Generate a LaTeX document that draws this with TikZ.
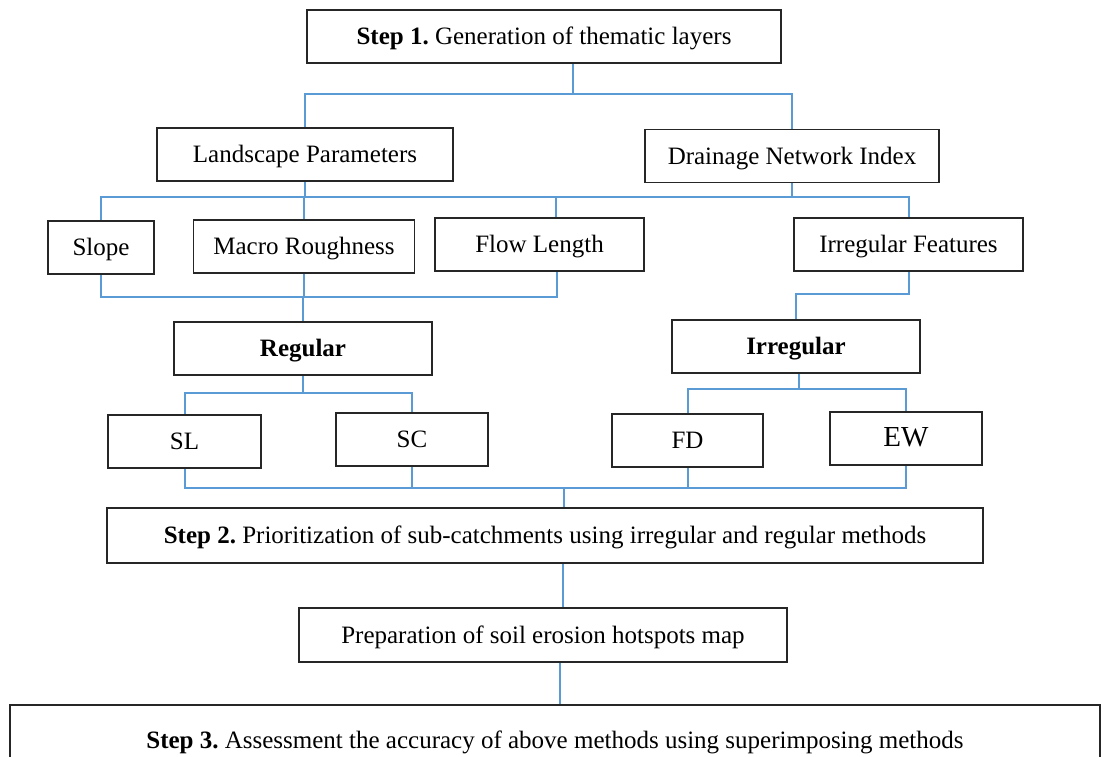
\documentclass[tikz,border=0pt]{standalone}
\usepackage{fontspec}
\setmainfont{Liberation Serif}
\frenchspacing
\definecolor{linkblue}{RGB}{91,155,213}
\tikzset{
  box/.style={draw=black!85, line width=1.2pt, inner sep=0pt, minimum height=39.75pt, text height=13.5pt, text depth=1.5pt, font=\fontsize{18.75}{22}\selectfont},
  link/.style={draw=linkblue, line width=1.5pt},
}

\begin{document}
\begin{tikzpicture}[x=0.75pt,y=0.75pt,yscale=-1,xscale=1]
\useasboundingbox (0,0) rectangle (1105,756);
\clip (0,0) rectangle (1105,756);

% Text Node
\node[box, minimum width=355.5pt] (step1) at (544,36.5) {\textbf{Step 1.} Generation of thematic layers};
% Text Node
\node[box, minimum width=222pt] (land) at (305,154.5) {Landscape Parameters};
\node[box, minimum width=220.5pt] (drain) at (792,156) {Drainage Network Index};
% Text Node
\node[box, minimum width=79.5pt] (slope) at (101,247.5) {Slope};
\node[box, minimum width=165.75pt] (macro) at (304,246.5) {Macro Roughness};
\node[box, minimum width=156.75pt] (flow) at (539.5,244.5) {Flow Length};
\node[box, minimum width=171.75pt] (irrf) at (908.5,244.5) {Irregular Features};
% Text Node
\node[box, minimum width=193.5pt] (reg) at (303,348.5) {\textbf{Regular}};
\node[box, minimum width=186pt] (irr) at (796,346.5) {\textbf{Irregular}};
% Text Node
\node[box, minimum width=114.75pt] (sl) at (184.5,441.5) {SL};
\node[box, minimum width=114pt] (sc) at (412,439.5) {SC};
\node[box, minimum width=113.25pt] (fd) at (687.5,440.5) {FD};
\node[box, minimum width=114pt, font=\fontsize{21.75}{26}\selectfont] (ew) at (906,438.5) {EW};
% Text Node
\node[box, minimum width=657pt, minimum height=41.25pt] (step2) at (545,535.5) {\textbf{Step 2.} Prioritization of sub-catchments using irregular and regular methods};
\node[box, minimum width=366pt, minimum height=40.5pt] (prep) at (543,635) {Preparation of soil erosion hotspots map};
\node[box, minimum width=817.5pt, minimum height=52.5pt] (step3) at (555,740) {\textbf{Step 3.} Assessment the accuracy of above methods using superimposing methods};

%Straight Lines
\coordinate (j1) at (573,94);
\draw[link] (step1.south -| j1) -- (j1);
\draw[link] (land.north) |- (j1) -| (drain.north);
%Straight Lines
\coordinate (j2) at (304,197);
\draw[link] (land.south) -- (land.south |- j2);
\draw[link] (drain.south) -- (drain.south |- j2);
\draw[link] (slope.north) |- (j2) -| (irrf.north);
\draw[link] (macro.north) -- (macro.north |- j2);
\draw[link] ([xshift=12pt]flow.north) -- ([xshift=12pt]flow.north |- j2);
%Straight Lines
\coordinate (j3) at (303,297);
\draw[link] (slope.south) |- (j3) -| ([xshift=13pt]flow.south);
\draw[link] (macro.south) -- (macro.south |- j3);
\draw[link] (j3) -- (reg.north -| j3);
\coordinate (j4) at (796,294);
\draw[link] (irrf.south) |- (j4) -- (irr.north);
%Straight Lines
\coordinate (j5) at (303,393);
\draw[link] (reg.south) -- (reg.south |- j5);
\draw[link] (sl.north) |- (j5) -| (sc.north);
\coordinate (j6) at (799,389);
\draw[link] (irr.south -| j6) -- (j6);
\draw[link] (fd.north) |- (j6) -| (ew.north);
%Straight Lines
\coordinate (j7) at (564,488);
\draw[link] (sl.south) |- (j7) -| (ew.south);
\draw[link] (sc.south) -- (sc.south |- j7);
\draw[link] (fd.south) -- (fd.south |- j7);
\draw[link] (j7) -- (step2.north -| j7);
%Straight Lines
\coordinate (j8) at (563,585);
\draw[link, line width=1pt] (step2.south -| j8) -- (prep.north -| j8);
\coordinate (j9) at (560,683);
\draw[link] (prep.south -| j9) -- (step3.north -| j9);

\end{tikzpicture}
\end{document}
